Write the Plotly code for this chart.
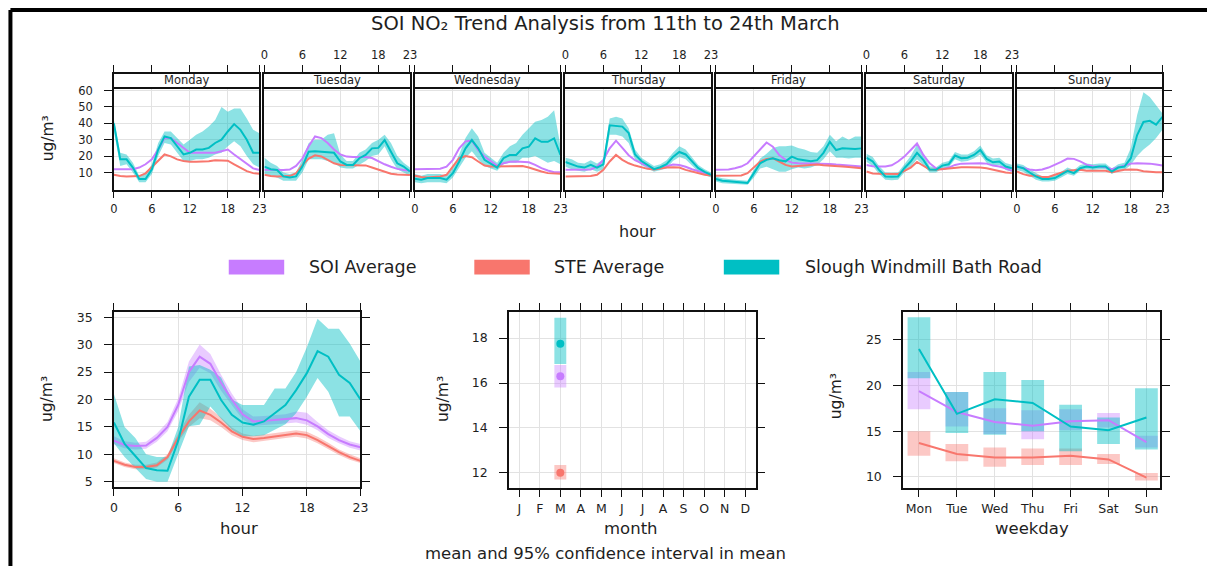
import plotly.graph_objects as go

# ---------------------------------------------------------------- data
HOURS = list(range(24))
DAY_NAMES = ["Monday", "Tuesday", "Wednesday", "Thursday", "Friday", "Saturday", "Sunday"]
WEEKDAY_LABELS = ["Mon", "Tue", "Wed", "Thu", "Fri", "Sat", "Sun"]
MONTH_LABELS = ["J", "F", "M", "A", "M", "J", "J", "A", "S", "O", "N", "D"]
SERIES = ["SOI Average", "STE Average", "Slough Windmill Bath Road"]
COLOURS = ["#C77CFF", "#F8766D", "#00BFC4"]
BAND_COLOURS = ["rgba(199,124,255,0.40)", "rgba(248,118,109,0.40)", "rgba(0,191,196,0.45)"]

# hour-of-day means for each weekday (ug/m3)
soi_mon = [12, 12, 12, 12, 13, 15, 18, 24, 31, 31, 28, 25, 22, 22, 22, 22, 22, 23, 24, 21, 18, 15, 12.5, 11.5]
soi_tue = [11.6, 11.5, 11.5, 11.5, 11.8, 14, 18.5, 26, 32, 31, 28, 24, 21, 19.7, 19.5, 19.5, 19.5, 18.8, 16.8, 15, 13.5, 12.2, 11.5, 11]
soi_wed = [12, 12, 12, 12, 12.3, 13.6, 17.7, 24.7, 29, 29.4, 23.7, 19.7, 16.7, 14, 15.6, 16.5, 16.7, 16.5, 16.2, 14.6, 12.6, 11.2, 10.2, 10.2]
soi_thu = [11.6, 11.6, 11.6, 11.6, 11.8, 13.6, 17.7, 24.7, 29.4, 25, 20.5, 17.5, 15.5, 13.6, 12, 12.6, 13.6, 14.8, 14.5, 13.5, 12, 10.8, 9.4, 8.4]
soi_fri = [11.6, 11.6, 11.8, 12.6, 13.6, 15.6, 19.7, 23.7, 28.3, 25.7, 20.7, 17.7, 16, 15.6, 15.6, 15.6, 15.6, 15.4, 15.2, 14.8, 14.6, 14.4, 14, 13.6]
soi_sat = [14.6, 13.8, 13.6, 13.6, 14.4, 16.7, 19.7, 23.7, 27.7, 20.7, 15.6, 12.6, 12, 13, 14.6, 15.4, 15.6, 15.6, 15.6, 15.4, 14.2, 13.6, 12.6, 11]
soi_sun = [13.6, 12.6, 11.8, 11.4, 11.8, 13, 14.6, 16.5, 18.5, 18.3, 16.8, 14.8, 13.8, 13.4, 13.2, 12, 13, 14.4, 15.4, 15.6, 15.6, 15.4, 14.8, 14.2]

ste_mon = [8.6, 7.8, 7.6, 7.6, 7.8, 9.5, 13.5, 17.5, 21, 19.8, 18, 17, 16.5, 16.5, 16.5, 16.8, 17.5, 17.5, 17.2, 15, 12.8, 10.8, 9.6, 9.2]
ste_tue = [8.6, 7.8, 7.6, 7.6, 7.8, 9.5, 14.5, 18.5, 20.5, 19.8, 17.8, 15.6, 14.6, 14.5, 14.5, 14.5, 14.3, 13, 11.8, 10.2, 9.2, 8.8, 8.6, 8.4]
ste_wed = [8, 7.2, 7, 7.5, 7.6, 8.6, 13.6, 18.7, 20, 19.3, 16.7, 14.2, 13.6, 13.6, 14, 14, 14, 14, 13, 11.6, 10.6, 9.6, 9.2, 9.2]
ste_thu = [7.6, 7.6, 7.6, 7.6, 7.8, 8.6, 11.6, 16.7, 20.7, 17.7, 15.6, 14.2, 13, 12.2, 11.8, 12.6, 13, 13.2, 13, 11.6, 10.6, 9.6, 8.6, 8.2]
ste_fri = [8, 8, 8, 8, 8.2, 9.6, 13, 16.7, 18.3, 18.7, 16.7, 14.6, 13.6, 14, 14.2, 14.6, 14.8, 14.4, 14, 13.8, 13.6, 13.4, 12.8, 12.6]
ste_sat = [10.6, 9.4, 9.2, 9.2, 9, 9, 11, 13, 16.4, 14.2, 11.8, 11.6, 12, 12.8, 13, 13.2, 13.2, 13.2, 13, 12.6, 11.6, 10.6, 10, 9.6]
ste_sun = [10.6, 9, 8, 8, 7.2, 7.2, 8.6, 10, 11, 11.4, 11.6, 11, 11, 11, 11, 10.2, 11, 11.6, 11.8, 11.6, 10.8, 10.4, 10.2, 10.2]

slough_mon = [40, 18, 18, 13, 6, 6, 12, 24, 32, 31, 26, 21, 22, 24, 24, 25, 28, 30, 35, 39.5, 36, 30, 22, 22]
slough_tue = [13.6, 12, 11.5, 7.6, 7, 7.6, 13.6, 22.7, 23, 22.7, 22, 22, 16.7, 14.6, 14.6, 18.7, 20.7, 24.7, 25, 29.8, 22.7, 15.6, 13.6, 10.6]
slough_wed = [6.2, 5.6, 6.6, 6.6, 6.6, 5.6, 9.6, 16.7, 24.7, 29.8, 24.7, 17.7, 15.6, 13, 18.7, 20.7, 20.7, 24.7, 25.7, 30.8, 28.7, 28.7, 30.8, 20.7]
slough_thu = [16.4, 15, 13.6, 13, 14.6, 13, 15, 38.8, 38.6, 38, 34, 21, 17, 14.5, 12, 13.2, 15, 19.5, 22.5, 21, 16.5, 12.6, 10.3, 8.6]
slough_fri = [6, 5, 4.6, 4.2, 4, 3.6, 9.6, 15.6, 17.7, 18.7, 17.5, 16.8, 19.7, 18, 17.5, 16.8, 17.5, 22, 28.7, 23.7, 24.7, 24.3, 24.3, 24.7]
slough_sat = [19, 16.7, 11.6, 7.6, 7.4, 7.6, 12.6, 16.7, 22, 17.7, 11.8, 11.6, 14.2, 15, 20.3, 18.7, 19, 20.7, 23.7, 18.3, 16.2, 16.7, 13.6, 12.6]
slough_sun = [13.6, 12.6, 10, 7.6, 6, 6, 6.6, 8.6, 11, 9.6, 12.6, 13.6, 13, 13.6, 13.6, 10.6, 13, 13.6, 18.7, 32.8, 40.8, 41.5, 39.2, 43.9]

# 95% confidence limits for the Slough series by weekday
slough_mon_lo = [35, 14, 15, 10, 4, 4, 9, 20, 28, 27, 22, 17, 17, 18, 18, 19, 21, 22, 26, 29, 26, 20, 15, 13]
slough_mon_hi = [42, 22, 21, 16, 8, 9, 15, 28, 35, 35, 31, 27, 30, 33, 35, 38, 42, 50, 47, 49, 49, 43, 36, 34]
slough_tue_lo = [9, 8, 7, 5, 5, 5, 10, 18, 18, 18, 17, 16, 13, 12.5, 12.5, 15, 17, 20, 21, 26, 18, 12, 10, 8]
slough_tue_hi = [19, 16, 14, 10, 9, 10, 18, 28, 30, 30, 33, 34, 21, 17, 17, 22, 24, 28, 30, 33, 28, 20, 16, 13]
slough_wed_lo = [4, 3.5, 4, 4, 4, 3.5, 7, 13, 19, 23, 18, 14, 12.5, 11, 15, 16, 16, 19, 19, 20, 18, 16, 17, 15]
slough_wed_hi = [9, 8, 9, 9, 9, 8, 13, 21, 31, 37, 32, 22, 19, 16, 22, 26, 28, 33, 37, 41, 42, 44, 48, 26]
slough_thu_lo = [13.5, 12, 11, 10.5, 12, 10.5, 12, 33, 33, 32, 28, 18, 14.5, 12.5, 10.5, 11.5, 12.5, 17, 19.5, 18, 14, 10.5, 8.5, 7]
slough_thu_hi = [19, 18, 16, 15.5, 17.5, 15.5, 18, 43, 44, 43, 37, 24, 19, 16.5, 14, 15, 17.5, 22, 26, 24, 19, 14.5, 12, 10]
slough_fri_lo = [4.5, 3.5, 3.2, 3, 2.8, 2.5, 7, 12.5, 13.5, 12, 10.5, 10.5, 12, 13, 12.5, 13, 14.5, 18, 23, 19, 19, 18.5, 19, 19]
slough_fri_hi = [7.5, 6.5, 6, 5.5, 5.2, 5, 12, 18.5, 21.5, 25, 26, 26, 26.5, 25, 24, 22.5, 22, 26, 33, 29, 32, 30, 32, 32]
slough_sat_lo = [16.5, 14, 9, 5.5, 5.2, 5.5, 10, 13.5, 18, 14.5, 10, 10, 12.5, 13, 18, 16.5, 17, 18.5, 21, 16, 14, 14.5, 11.5, 10.5]
slough_sat_hi = [21.5, 19.5, 14, 10, 9.8, 10, 15, 20, 27, 21, 13.8, 13.2, 16, 17, 22.5, 21, 21, 23, 26.5, 20.5, 18.5, 19, 15.8, 14.7]
slough_sun_lo = [11.5, 10.5, 8, 5.5, 4.5, 4.5, 5, 7, 9, 8, 11, 12, 11.5, 12, 12, 9, 11, 11.5, 14.5, 20, 24, 27, 31, 36]
slough_sun_hi = [15.5, 14.5, 12, 9.5, 7.5, 7.5, 8.2, 10.5, 13, 11.5, 14.5, 15.5, 15, 15.5, 15.5, 12.5, 15, 16, 25, 45, 59, 56, 51, 46]

# overall diurnal profile with 95% limits
soi_hour = [12.5, 11.7, 11.5, 11.6, 13.0, 15.0, 19.0, 25.0, 27.8, 26.5, 23.0, 20.0, 17.3, 16.0, 16.1, 16.3, 16.4, 16.6, 16.2, 15.1, 13.7, 12.6, 11.8, 11.3]
soi_hour_lo = [11.8, 11.1, 10.9, 11.0, 12.3, 14.2, 17.9, 23.2, 25.8, 24.8, 21.6, 18.9, 16.4, 15.2, 15.3, 15.5, 15.6, 15.8, 15.4, 14.4, 13.0, 12.0, 11.2, 10.7]
soi_hour_hi = [13.3, 12.4, 12.1, 12.3, 13.8, 15.9, 20.2, 26.9, 30.0, 28.3, 24.5, 21.1, 18.2, 16.9, 17.0, 17.2, 17.3, 17.8, 17.6, 15.9, 14.4, 13.3, 12.4, 11.9]
ste_hour = [8.8, 8.1, 7.7, 7.7, 8.0, 9.5, 13.0, 16.0, 18.0, 17.2, 15.8, 14.2, 13.2, 12.8, 13.0, 13.3, 13.6, 13.8, 13.5, 12.6, 11.5, 10.4, 9.5, 8.8]
ste_hour_lo = [8.4, 7.7, 7.3, 7.3, 7.6, 9.0, 12.3, 15.0, 16.6, 16.2, 15.0, 13.5, 12.6, 12.2, 12.4, 12.7, 13.0, 13.2, 12.9, 12.0, 11.0, 9.9, 9.0, 8.4]
ste_hour_hi = [9.3, 8.5, 8.1, 8.1, 8.5, 10.0, 13.8, 17.2, 19.5, 18.3, 16.7, 14.9, 13.8, 13.4, 13.6, 13.9, 14.2, 14.4, 14.1, 13.2, 12.1, 10.9, 10.0, 9.3]
slough_hour = [15.8, 11.9, 9.7, 7.5, 7.1, 7.0, 12.5, 20.5, 23.6, 23.6, 19.9, 17.2, 15.8, 15.4, 16.0, 17.5, 19.0, 21.7, 24.8, 28.8, 27.8, 24.5, 23.0, 20.0]
slough_hour_lo = [12, 9.5, 7.5, 5.5, 5.0, 5.0, 10, 15.1, 15.4, 18.7, 16.5, 14.5, 13.3, 13.3, 13.5, 14.5, 15.5, 17.5, 20.5, 23.9, 21.4, 16.9, 16.9, 14.2]
slough_hour_hi = [21, 15, 13, 10, 9.5, 9.5, 15, 26, 26.3, 25.4, 24, 20, 19, 19, 19, 22, 22, 25, 29.5, 34.7, 32.9, 32.9, 30.2, 26.9]

# monthly means (March only) with 95% limits
month_nums = [3]
soi_month, soi_month_lo, soi_month_hi = [16.3], [15.8], [16.8]
ste_month, ste_month_lo, ste_month_hi = [12.0], [11.7], [12.35]
slough_month, slough_month_lo, slough_month_hi = [17.75], [16.85], [18.9]

# weekday means with 95% limits
weekday_nums = [1, 2, 3, 4, 5, 6, 7]
soi_week = [19.4, 17.1, 16.0, 15.6, 16.1, 16.2, 13.8]
soi_week_lo = [17.4, 15.5, 14.7, 14.1, 15.1, 15.4, 13.2]
soi_week_hi = [21.5, 19.3, 17.5, 17.3, 17.4, 17.0, 14.5]
ste_week = [13.7, 12.5, 12.1, 12.1, 12.3, 11.9, 9.9]
ste_week_lo = [12.3, 11.7, 11.1, 11.3, 11.3, 11.4, 9.6]
ste_week_hi = [15.0, 13.6, 13.2, 13.1, 13.1, 12.5, 10.4]
slough_week = [24.0, 16.9, 18.5, 18.1, 15.5, 15.1, 16.5]
slough_week_lo = [20.8, 14.8, 14.6, 15.0, 12.8, 13.6, 13.0]
slough_week_hi = [27.5, 19.3, 21.5, 20.6, 17.9, 16.5, 19.7]

# ---------------------------------------------------------------- assembly
soi_days = [soi_mon, soi_tue, soi_wed, soi_thu, soi_fri, soi_sat, soi_sun]
ste_days = [ste_mon, ste_tue, ste_wed, ste_thu, ste_fri, ste_sat, ste_sun]
slough_days = [slough_mon, slough_tue, slough_wed, slough_thu, slough_fri, slough_sat, slough_sun]
slough_days_lo = [slough_mon_lo, slough_tue_lo, slough_wed_lo, slough_thu_lo, slough_fri_lo, slough_sat_lo, slough_sun_lo]
slough_days_hi = [slough_mon_hi, slough_tue_hi, slough_wed_hi, slough_thu_hi, slough_fri_hi, slough_sat_hi, slough_sun_hi]

W, H = 1215, 568
FONT = "DejaVu Sans"
INK = "#1e1e1e"
FRAME = "#111111"
GRID = "#E2E2E2"


def fx(p):
    return p / W


def fy(p):
    return 1 - p / H


def aname(kind, n):
    return f"{kind}axis" if n == 1 else f"{kind}axis{n}"


def aref(kind, n):
    return kind if n == 1 else f"{kind}{n}"


fig = go.Figure()
layout = dict(
    width=W, height=H, autosize=False,
    margin=dict(l=0, r=0, t=0, b=0),
    paper_bgcolor="white", plot_bgcolor="white",
    showlegend=False, barmode="overlay",
    font=dict(family=FONT, color=INK),
)

frame = dict(showline=True, linecolor=FRAME, linewidth=1.5, zeroline=False,
             tickcolor=FRAME, tickwidth=1.2, gridcolor=GRID, gridwidth=1)


def band(xs, lo, hi, colour, xa, ya):
    fig.add_trace(go.Scatter(
        x=list(xs) + list(xs)[::-1], y=list(hi) + list(lo)[::-1],
        fill="toself", fillcolor=colour, line=dict(width=0),
        mode="lines", hoverinfo="skip", xaxis=xa, yaxis=ya))


def line(xs, ys, colour, xa, ya, width=2):
    fig.add_trace(go.Scatter(x=xs, y=ys, mode="lines",
                             line=dict(color=colour, width=width),
                             xaxis=xa, yaxis=ya))


# ---- top row: hour-of-day by weekday panels
HOUR_TICKS = [0, 6, 12, 18, 23]
annotations = []
for i, day in enumerate(DAY_NAMES):
    n_main, n_strip = i + 1, i + 8
    x0 = 111 + 152 * i
    x1 = x0 + 147
    dom_x = [fx(x0), fx(x1)]
    xa, ya = aref("x", n_main), aref("y", n_main)
    xs, ys = aref("x", n_strip), aref("y", n_strip)

    # panel: the top edge is supplied by the strip's lower line
    layout[aname("x", n_main)] = dict(
        frame, domain=dom_x, range=[0, 23], anchor=ya, mirror=False,
        tickvals=HOUR_TICKS, ticks="outside", ticklen=6,
        showticklabels=(i % 2 == 0), ticklabelstandoff=1,
        tickfont=dict(size=11.5, color=INK), showgrid=True)
    yax = dict(frame, domain=[fy(189), fy(84.5)], range=[-0.9, 62.3], anchor=xa,
               mirror=True, tickvals=[10, 20, 30, 40, 50, 60],
               tickfont=dict(size=11.5, color=INK), showgrid=True,
               ticks="", showticklabels=False)
    if i == 0:
        yax.update(ticks="outside", ticklen=8, showticklabels=True, ticklabelstandoff=9)
    if i == 6:
        yax.update(side="right", ticks="outside", ticklen=8)
    layout[aname("y", n_main)] = yax

    # strip above each panel, carrying the upper hour ticks
    layout[aname("x", n_strip)] = dict(
        frame, domain=dom_x, range=[0, 23], anchor=ys, side="top",
        mirror=True, tickvals=HOUR_TICKS, ticks="outside", ticklen=8,
        showticklabels=(i % 2 == 1), ticklabelstandoff=1,
        tickfont=dict(size=11.5, color=INK), showgrid=False)
    layout[aname("y", n_strip)] = dict(
        frame, domain=[fy(84.5), fy(72)], range=[0, 1], anchor=xs,
        mirror=True, ticks="", showticklabels=False, showgrid=False)
    fig.add_trace(go.Scatter(x=[0, 23], y=[-1, -1], mode="lines",
                             line=dict(width=0), hoverinfo="skip",
                             xaxis=xs, yaxis=ys))

    annotations.append(dict(text=day, x=fx((x0 + x1) / 2), y=fy(78),
                            xref="paper", yref="paper", showarrow=False,
                            xanchor="center", yanchor="middle",
                            font=dict(size=11.5, color=INK)))

    band(HOURS, slough_days_lo[i], slough_days_hi[i], BAND_COLOURS[2], xa, ya)
    line(HOURS, soi_days[i], COLOURS[0], xa, ya)
    line(HOURS, ste_days[i], COLOURS[1], xa, ya)
    line(HOURS, slough_days[i], COLOURS[2], xa, ya)

# ---- bottom row
bottom_common = dict(frame, mirror="ticks", ticks="outside", ticklen=8,
                     showgrid=True, tickfont=dict(size=12.5, color=INK))

# diurnal profile
layout["xaxis15"] = dict(bottom_common, domain=[fx(111), fx(360)], range=[0, 23],
                         anchor="y15", tickvals=HOUR_TICKS, ticklabelstandoff=1)
layout["yaxis15"] = dict(bottom_common, domain=[fy(488), fy(312)], range=[4.1, 35.9],
                         anchor="x15", tickvals=[5, 10, 15, 20, 25, 30, 35],
                         ticklabelstandoff=9)
band(HOURS, soi_hour_lo, soi_hour_hi, BAND_COLOURS[0], "x15", "y15")
band(HOURS, ste_hour_lo, ste_hour_hi, BAND_COLOURS[1], "x15", "y15")
band(HOURS, slough_hour_lo, slough_hour_hi, BAND_COLOURS[2], "x15", "y15")
line(HOURS, soi_hour, COLOURS[0], "x15", "y15")
line(HOURS, ste_hour, COLOURS[1], "x15", "y15")
line(HOURS, slough_hour, COLOURS[2], "x15", "y15")

# monthly
layout["xaxis16"] = dict(bottom_common, domain=[fx(510), fx(759)], range=[0.5, 12.5],
                         anchor="y16", tickvals=list(range(1, 13)), ticktext=MONTH_LABELS,
                         ticklabelstandoff=1)
layout["yaxis16"] = dict(bottom_common, domain=[fy(489), fy(312)], range=[11.34, 19.15],
                         anchor="x16", tickvals=[12, 14, 16, 18], ticklabelstandoff=9)
month_sets = [(soi_month, soi_month_lo, soi_month_hi),
              (ste_month, ste_month_lo, ste_month_hi),
              (slough_month, slough_month_lo, slough_month_hi)]
for k, (m, lo, hi) in enumerate(month_sets):
    fig.add_trace(go.Bar(x=month_nums, y=[h - l for h, l in zip(hi, lo)], base=lo,
                         width=0.58, marker=dict(color=BAND_COLOURS[k], line=dict(width=0)),
                         xaxis="x16", yaxis="y16"))
for k, (m, lo, hi) in enumerate(month_sets):
    fig.add_trace(go.Scatter(x=month_nums, y=m, mode="markers",
                             marker=dict(color=COLOURS[k], size=8),
                             xaxis="x16", yaxis="y16"))

# weekday
layout["xaxis17"] = dict(bottom_common, domain=[fx(908), fx(1168)], range=[0.58, 7.37],
                         anchor="y17", tickvals=weekday_nums, ticktext=WEEKDAY_LABELS,
                         ticklabelstandoff=1)
layout["yaxis17"] = dict(bottom_common, domain=[fy(489), fy(312)], range=[8.8, 28.04],
                         anchor="x17", tickvals=[10, 15, 20, 25], ticklabelstandoff=9)
week_sets = [(soi_week, soi_week_lo, soi_week_hi),
             (ste_week, ste_week_lo, ste_week_hi),
             (slough_week, slough_week_lo, slough_week_hi)]
for k, (m, lo, hi) in enumerate(week_sets):
    fig.add_trace(go.Bar(x=weekday_nums, y=[h - l for h, l in zip(hi, lo)], base=lo,
                         width=0.6, marker=dict(color=BAND_COLOURS[k], line=dict(width=0)),
                         xaxis="x17", yaxis="y17"))
for k, (m, lo, hi) in enumerate(week_sets):
    line(weekday_nums, m, COLOURS[k], "x17", "y17")


# ---- text
def note(text, px, py, size, angle=0, anchor="center"):
    annotations.append(dict(text=text, x=fx(px), y=fy(py), xref="paper", yref="paper",
                            showarrow=False, xanchor=anchor, yanchor="middle",
                            textangle=angle, font=dict(size=size, color=INK)))


note("SOI NO₂ Trend Analysis from 11th to 24th March", 608, 21, 19.5)
note("hour", 640, 231, 16)
UNIT = "ug/m³"
note(UNIT, 44, 137, 15.5, angle=-90)
note(UNIT, 44, 400, 15.5, angle=-90)
note(UNIT, 444, 400, 15.5, angle=-90)
note(UNIT, 840, 397, 15.5, angle=-90)
note("hour", 237, 530, 16.5)
note("month", 633, 530, 16.5)
note("weekday", 1038, 530, 16.5)
note("mean and 95% confidence interval in mean", 607, 555, 16.5)

# legend keys
shapes = []
legend_keys = [(227, 306), (475, 553), (727, 807)]
for k, (kx, tx) in enumerate(legend_keys):
    shapes.append(dict(type="rect", xref="paper", yref="paper",
                       x0=fx(kx), x1=fx(kx + 56), y0=fy(274), y1=fy(259),
                       fillcolor=COLOURS[k], line=dict(width=0)))
    note(SERIES[k], tx, 266.5, 17.5, anchor="left")

# page border (top and left)
shapes.append(dict(type="line", xref="paper", yref="paper",
                   x0=fx(6.5), x1=1, y0=fy(7), y1=fy(7), line=dict(color="black", width=4)))
shapes.append(dict(type="line", xref="paper", yref="paper",
                   x0=fx(6.5), x1=fx(6.5), y0=fy(7), y1=0, line=dict(color="black", width=4)))

layout["annotations"] = annotations
layout["shapes"] = shapes
fig.update_layout(**layout)

fig.write_html("out.html")
